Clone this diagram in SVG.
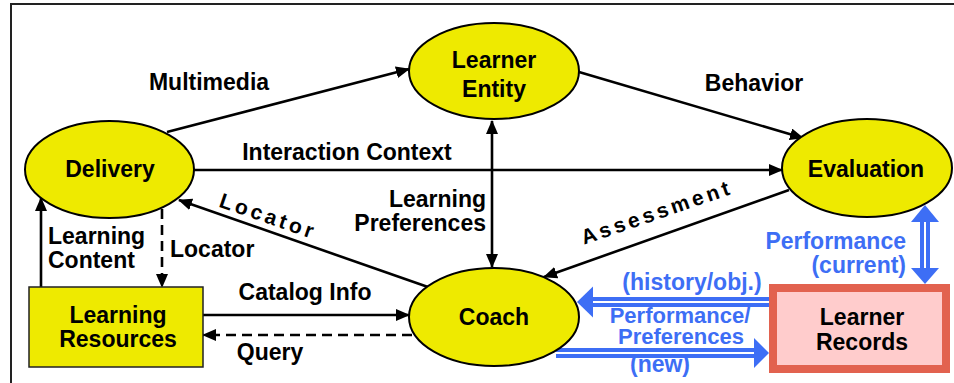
<svg xmlns="http://www.w3.org/2000/svg" width="954" height="383" viewBox="0 0 954 383">
<defs>
<style>
.node{fill:#EEEA00;stroke:#000;stroke-width:2}
.t{font-family:"Liberation Sans",Arial,sans-serif;font-weight:bold;font-size:23px;fill:#000}
.m{text-anchor:middle}
.e{text-anchor:end}
.b{fill:#3D6EF5}
.s{font-size:22px}
.c{stroke:#000;stroke-width:2.6;fill:none}
.d{stroke-dasharray:10 6}
.rot{font-size:21px;letter-spacing:3.5px}
.band{stroke:#3D6EF5;stroke-width:10;fill:none}
.gap{stroke:#fff;stroke-width:2;fill:none}
</style>
<marker id="ah" markerWidth="14" markerHeight="12" refX="13" refY="6" orient="auto-start-reverse" markerUnits="userSpaceOnUse">
<path d="M0,0 L14,6 L0,12 Z" fill="#000"/>
</marker>
</defs>
<rect width="954" height="383" fill="#fff"/>
<path d="M11,383 V4 H954" fill="none" stroke="#222" stroke-width="2"/>

<g id="connectors">
<line class="c" x1="167" y1="132" x2="409" y2="69" marker-end="url(#ah)"/>
<line class="c" x1="579" y1="72" x2="803" y2="138" marker-end="url(#ah)"/>
<line class="c" x1="194" y1="170" x2="782" y2="170" marker-end="url(#ah)"/>
<line class="c" x1="492" y1="121" x2="492" y2="267" marker-start="url(#ah)" marker-end="url(#ah)"/>
<line class="c" x1="428" y1="287" x2="179" y2="200" marker-end="url(#ah)"/>
<line class="c" x1="789" y1="190" x2="544" y2="277" marker-end="url(#ah)"/>
<line class="c" x1="41" y1="287" x2="41" y2="198" marker-end="url(#ah)"/>
<line class="c d" x1="162" y1="209" x2="162" y2="287" marker-end="url(#ah)"/>
<line class="c" x1="203" y1="315" x2="409" y2="315" marker-end="url(#ah)"/>
<line class="c d" x1="412" y1="335" x2="203" y2="335" marker-end="url(#ah)"/>
<!-- blue double arrows -->
<line class="band" x1="769" y1="302" x2="590" y2="302"/>
<line class="gap" x1="769" y1="302" x2="590" y2="302"/>
<path d="M577,302 L593,286.5 L593,317.5 Z" fill="#3D6EF5"/>
<line class="band" x1="556" y1="353" x2="756" y2="353"/>
<line class="gap" x1="556" y1="353" x2="756" y2="353"/>
<path d="M769,353 L754,338 L754,368 Z" fill="#3D6EF5"/>
<line class="band" x1="925" y1="220" x2="925" y2="270"/>
<line class="gap" x1="925" y1="220" x2="925" y2="270"/>
<path d="M925,205 L911,222 L939,222 Z" fill="#3D6EF5"/>
<path d="M925,284 L911,268 L939,268 Z" fill="#3D6EF5"/>
</g>

<g id="learner-entity">
<ellipse class="node" cx="494" cy="71" rx="85" ry="48"/>
<text class="t m" x="494" y="68">Learner</text>
<text class="t m" x="494" y="97">Entity</text>
</g>
<g id="delivery">
<ellipse class="node" cx="109.5" cy="169.5" rx="84.5" ry="48.5"/>
<text class="t m" x="110" y="177">Delivery</text>
</g>
<g id="evaluation">
<ellipse class="node" cx="867" cy="168" rx="85" ry="49"/>
<text class="t m" x="866" y="177">Evaluation</text>
</g>
<g id="coach">
<ellipse class="node" cx="494" cy="317" rx="85" ry="49"/>
<text class="t m" x="494" y="325">Coach</text>
</g>
<g id="learning-resources">
<rect x="29" y="287" width="174" height="80" fill="#EEEA00" stroke="#222" stroke-width="1.5"/>
<text class="t m" x="118" y="323">Learning</text>
<text class="t m" x="118" y="347">Resources</text>
</g>
<g id="learner-records">
<rect x="773" y="288" width="173" height="81" fill="#FFCCCC" stroke="#E2624F" stroke-width="8"/>
<text class="t m" x="862" y="325">Learner</text>
<text class="t m" x="862" y="350">Records</text>
</g>

<g id="labels">
<text class="t m" x="209" y="90">Multimedia</text>
<text class="t m" x="754" y="91">Behavior</text>
<text class="t m" x="347" y="160">Interaction Context</text>
<text class="t e" x="486" y="207">Learning</text>
<text class="t e" x="486" y="231">Preferences</text>
<text class="t rot m" transform="translate(266,223) rotate(19)">Locator</text>
<text class="t rot m" transform="translate(659,219) rotate(-19)">Assessment</text>
<text class="t" x="48" y="244">Learning</text>
<text class="t" x="48" y="268">Content</text>
<text class="t" x="170" y="257">Locator</text>
<text class="t m" x="305" y="300">Catalog Info</text>
<text class="t m" x="270" y="360">Query</text>
<text class="t b e" x="906" y="249">Performance</text>
<text class="t b e" x="906" y="273">(current)</text>
<text class="t b m" x="692" y="290">(history/obj.)</text>
<text class="t b m s" x="680" y="323">Performance/</text>
<text class="t b m s" x="681" y="344">Preferences</text>
<text class="t b m" x="660" y="372">(new)</text>
</g>
</svg>
